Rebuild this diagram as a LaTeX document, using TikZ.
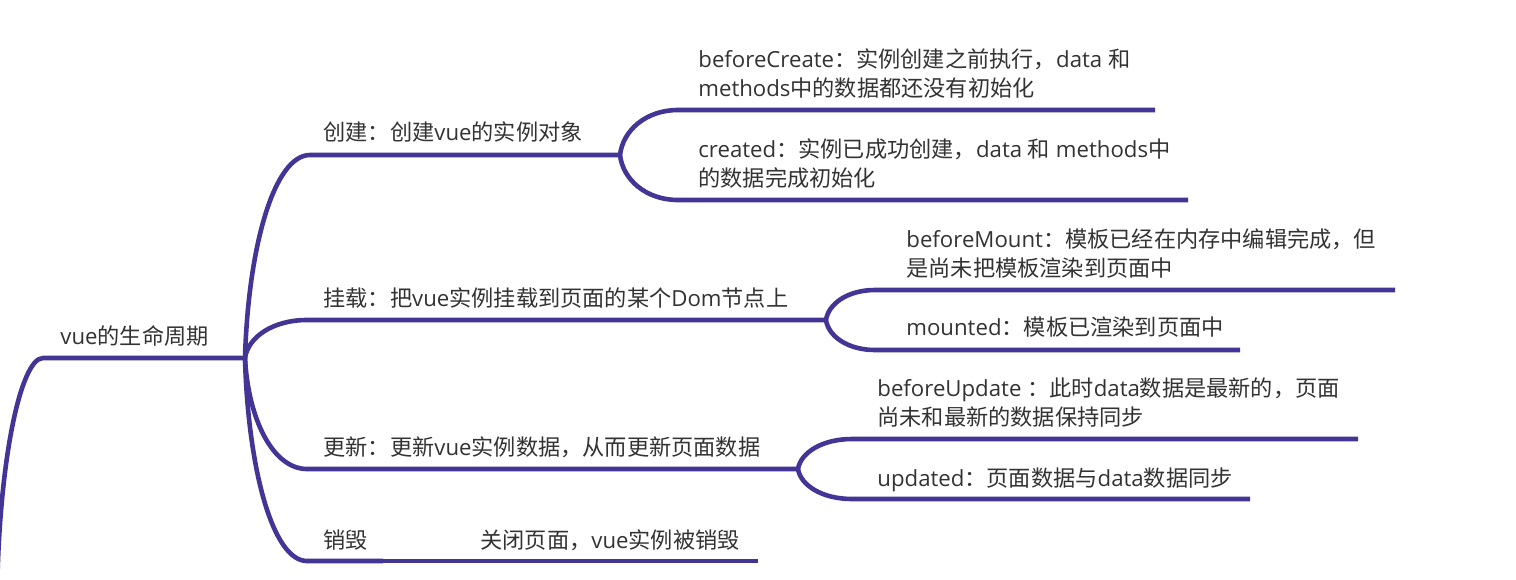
\documentclass[tikz,border=0pt]{standalone}
\usepackage{fontspec}
\setmainfont{Open Sans}
\newfontfamily\cjk{Noto Sans CJK SC}
\newcommand\C[1]{{\cjk #1}}
\usetikzlibrary{calc}
\definecolor{branch}{RGB}{66,53,150}
\definecolor{ink}{RGB}{51,51,51}
\newcommand\branchto[3]{\draw[br] let \p1=(#1), \p2=(#2) in (\p1) .. controls ({\x1+0.05*(\x2-\x1)},{\y1+0.55*(\y2-\y1)}) and ({\x1+0.45*(\x2-\x1)},{\y2}) .. (\p2) -- (#3);}
\begin{document}
\begin{tikzpicture}[x=0.5pt,y=-0.5pt,
  br/.style={draw=branch, line width=2.3pt},
  lbl/.style={anchor=base west, inner sep=0pt, text=ink, font=\fontsize{11.1}{14.2}\selectfont, align=left}]
\fill[white] (0,0) rectangle (1516,579);
\useasboundingbox (0,0) rectangle (1516,579);
% coordinates
\coordinate (parent) at (-3,612);
\coordinate (r0) at (43,358);  \coordinate (h0) at (245,358);
\coordinate (a0) at (310,155); \coordinate (h1) at (620,155);
\coordinate (a1) at (678,110); \coordinate (a1e) at (1155,110);
\coordinate (a2) at (678,200); \coordinate (a2e) at (1188,200);
\coordinate (b0) at (307,320); \coordinate (h2) at (826,320);
\coordinate (b1) at (875,290); \coordinate (b1e) at (1395,290);
\coordinate (b2) at (875,350); \coordinate (b2e) at (1240,350);
\coordinate (c0) at (307,469); \coordinate (h3) at (798,469);
\coordinate (c1) at (852,439); \coordinate (c1e) at (1358,439);
\coordinate (c2) at (852,499); \coordinate (c2e) at (1250,499);
\coordinate (d0) at (307,561); \coordinate (h4) at (383,561);
\coordinate (d1e) at (758,561);
% texts
\node[lbl] (root) at (60,344) {vue\C{的生命周期}};
\node[lbl] (create) at (323,140) {\C{创建：创建}vue\C{的实例对象}};
\node[lbl] (bc) at (698,96) {beforeCreate\C{：实例创建之前执行，}data \C{和}\\methods\C{中的数据都还没有初始化}};
\node[lbl] (cd) at (698,186) {created\C{：实例已成功创建，}data \C{和} methods\C{中}\\\C{的数据完成初始化}};
\node[lbl] (mount) at (323,306) {\C{挂载：把}vue\C{实例挂载到页面的某个}Dom\C{节点上}};
\node[lbl] (bm) at (906,276) {beforeMount\C{：模板已经在内存中编辑完成，但}\\\C{是尚未把模板渲染到页面中}};
\node[lbl] (md) at (906,335) {mounted\C{：模板已渲染到页面中}};
\node[lbl] (upd) at (323,455) {\C{更新：更新}vue\C{实例数据，从而更新页面数据}};
\node[lbl] (bu) at (877,425) {beforeUpdate \C{：此时}data\C{数据是最新的，页面}\\\C{尚未和最新的数据保持同步}};
\node[lbl] (ud) at (877,486) {updated\C{：页面数据与}data\C{数据同步}};
\node[lbl] (des) at (323,548) {\C{销毁}};
\node[lbl] (cls) at (480,548) {\C{关闭页面，}vue\C{实例被销毁}};
% connectors
\draw[br] (parent) .. controls (-3,468) and (20,358) .. (r0) -- (h0);
\branchto{h0}{a0}{h1}
\branchto{h1}{a1}{a1e}
\branchto{h1}{a2}{a2e}
\branchto{h0}{b0}{h2}
\branchto{h2}{b1}{b1e}
\branchto{h2}{b2}{b2e}
\branchto{h0}{c0}{h3}
\branchto{h3}{c1}{c1e}
\branchto{h3}{c2}{c2e}
\branchto{h0}{d0}{h4}
\draw[br] (h4) -- (d1e);
\end{tikzpicture}
\end{document}
